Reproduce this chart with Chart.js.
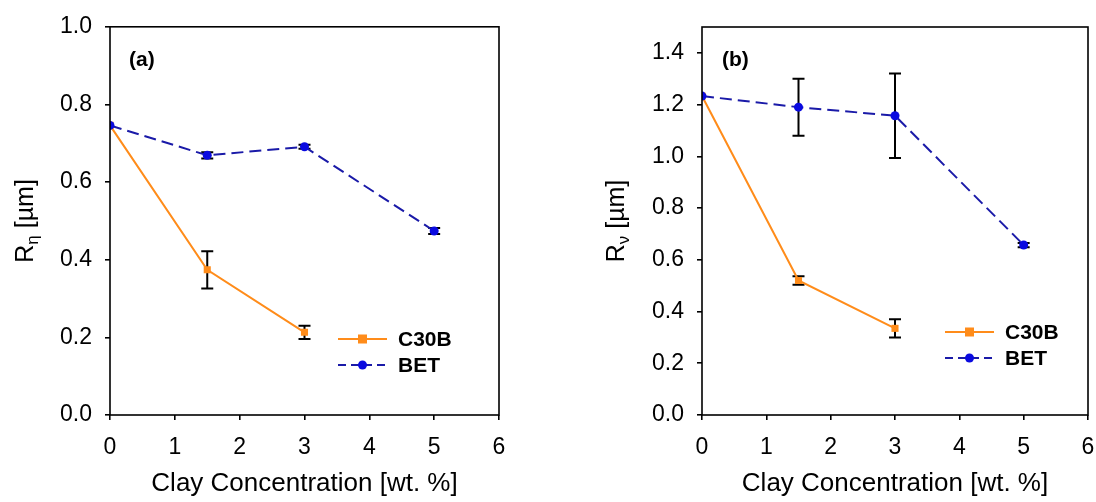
<!DOCTYPE html>
<html>
<head>
<meta charset="utf-8">
<script src="https://cdn.jsdelivr.net/npm/chart.js@4"></script>
<style>
  body { margin: 0; background: #fff; }
  .panel { position: absolute; top: 0; width: 548px; height: 502px; }
</style>
</head>
<body>
<div class="panel" style="left:0"><canvas id="chartA" width="548" height="502"></canvas></div>
<div class="panel" style="left:548px"><canvas id="chartB" width="548" height="502"></canvas></div>
<script>
// clay concentration [wt. %]
const clayC30B = [0, 1.5, 3];
const clayBET = [0, 1.5, 3, 5];

// (a) R_eta [um]
const rnC30B = [0.746, 0.374, 0.213];
const rnC30BErr = [0, 0.048, 0.017];
const rnBET = [0.746, 0.669, 0.691, 0.474];
const rnBETErr = [0, 0.008, 0.005, 0.008];

// (b) R_nu [um]
const rvC30B = [1.233, 0.520, 0.335];
const rvC30BErr = [0, 0.016, 0.035];
const rvBET = [1.233, 1.190, 1.157, 0.657];
const rvBETErr = [0, 0.11, 0.163, 0.008];

const xTicks = [0, 1, 2, 3, 4, 5, 6];
const rnTicks = [0, 0.2, 0.4, 0.6, 0.8, 1.0];
const rvTicks = [0, 0.2, 0.4, 0.6, 0.8, 1.0, 1.2, 1.4];

const FONT = "'Liberation Sans', Arial, sans-serif";
const ORANGE = '#ff8c1a';
const BLUE_LINE = '#1a1aa8';
const BLUE_PT = '#0a0ae0';

const pts = (xs, ys) => xs.map((x, i) => ({ x, y: ys[i] }));

// error bars, box, titles, legend
const decor = {
  id: 'decor',
  beforeDatasetsDraw(chart, args, opts) {
    const { ctx, scales: { x, y } } = chart;
    ctx.save();
    ctx.strokeStyle = '#000';
    ctx.lineWidth = 2;
    opts.errors.forEach(({ xs, ys, errs }) => {
      xs.forEach((xv, i) => {
        if (!errs[i]) return;
        const px = x.getPixelForValue(xv);
        const top = y.getPixelForValue(ys[i] + errs[i]);
        const bot = y.getPixelForValue(ys[i] - errs[i]);
        ctx.beginPath();
        ctx.moveTo(px, top); ctx.lineTo(px, bot);
        ctx.moveTo(px - 6, top); ctx.lineTo(px + 6, top);
        ctx.moveTo(px - 6, bot); ctx.lineTo(px + 6, bot);
        ctx.stroke();
      });
    });
    ctx.restore();
  },
  afterDatasetsDraw(chart, args, opts) {
    const { ctx, chartArea: a } = chart;
    ctx.save();
    ctx.strokeStyle = '#000';

    // frame
    ctx.lineWidth = 1.6;
    ctx.strokeRect(a.left, a.top, a.right - a.left, a.bottom - a.top);

    // panel label
    ctx.fillStyle = '#000';
    ctx.font = `bold 21px ${FONT}`;
    ctx.textBaseline = 'middle';
    ctx.fillText(opts.panel, opts.panelX, 60);

    // x title
    ctx.font = `26px ${FONT}`;
    ctx.textAlign = 'center';
    ctx.textBaseline = 'alphabetic';
    ctx.fillText('Clay Concentration [wt. %]', (a.left + a.right) / 2, 491);

    // y title with subscript
    ctx.save();
    ctx.translate(opts.yTitleX, (a.top + a.bottom) / 2);
    ctx.rotate(-Math.PI / 2);
    ctx.textAlign = 'left';
    ctx.font = `25px ${FONT}`;
    const w1 = ctx.measureText('R').width;
    const w3 = ctx.measureText(' [µm]').width;
    ctx.font = `17px ${FONT}`;
    const w2 = ctx.measureText(opts.sub).width;
    let sx = -(w1 + w2 + w3) / 2;
    ctx.font = `25px ${FONT}`;
    ctx.fillText('R', sx, 9);
    ctx.font = `17px ${FONT}`;
    ctx.fillText(opts.sub, sx + w1, 14);
    ctx.font = `25px ${FONT}`;
    ctx.fillText(' [µm]', sx + w1 + w2, 9);
    ctx.restore();

    // legend
    const L = opts.legend;
    ctx.lineWidth = 2;
    ctx.strokeStyle = ORANGE;
    ctx.beginPath(); ctx.moveTo(L.x, L.y); ctx.lineTo(L.x + 49, L.y); ctx.stroke();
    ctx.fillStyle = ORANGE;
    ctx.fillRect(L.x + 24.5 - 4.5, L.y - 4.5, 9, 9);
    ctx.strokeStyle = BLUE_LINE;
    ctx.setLineDash([8, 5]);
    ctx.beginPath(); ctx.moveTo(L.x, L.y + 26); ctx.lineTo(L.x + 49, L.y + 26); ctx.stroke();
    ctx.setLineDash([]);
    ctx.fillStyle = BLUE_PT;
    ctx.beginPath(); ctx.arc(L.x + 24.5, L.y + 26, 4.5, 0, Math.PI * 2); ctx.fill();
    ctx.fillStyle = '#000';
    ctx.font = `bold 21px ${FONT}`;
    ctx.textAlign = 'left';
    ctx.textBaseline = 'middle';
    ctx.fillText('C30B', L.x + 60, L.y + 1);
    ctx.fillText('BET', L.x + 60, L.y + 27);
    ctx.restore();
  }
};

function makeChart(id, c30b, bet, tickVals, yMax, leftW, rightPad, top, decorOpts) {
  return new Chart(document.getElementById(id), {
    type: 'scatter',
    data: {
      datasets: [
        {
          label: 'BET', data: pts(clayBET, bet), showLine: true,
          borderColor: BLUE_LINE, borderWidth: 2, borderDash: [12, 6],
          pointStyle: 'circle', pointRadius: 4.5, pointBackgroundColor: BLUE_PT,
          pointBorderColor: BLUE_PT, pointBorderWidth: 0
        },
        {
          label: 'C30B', data: pts(clayC30B, c30b), showLine: true,
          borderColor: ORANGE, borderWidth: 2,
          pointStyle: 'rect', pointRadius: 5, pointBackgroundColor: ORANGE,
          pointBorderColor: ORANGE, pointBorderWidth: 0
        }
      ]
    },
    options: {
      responsive: false,
      animation: false,
      layout: { padding: { left: 0, right: rightPad, top: top, bottom: 0 } },
      plugins: { legend: { display: false }, tooltip: { enabled: false }, decor: decorOpts },
      scales: {
        x: {
          type: 'linear', min: 0, max: 6,
          afterBuildTicks: s => { s.ticks = xTicks.map(v => ({ value: v })); },
          afterFit: s => { s.height = 87; s.paddingLeft = 0; s.paddingRight = 0; },
          grid: { drawOnChartArea: false, color: '#000', lineWidth: 1.6, tickLength: 5 },
          border: { display: false },
          ticks: { color: '#000', font: { family: FONT, size: 23 }, padding: 14 }
        },
        y: {
          min: 0, max: yMax,
          afterBuildTicks: s => { s.ticks = tickVals.map(v => ({ value: v })); },
          afterFit: s => { s.width = leftW; },
          grid: { drawOnChartArea: false, color: '#000', lineWidth: 1.6, tickLength: 5 },
          border: { display: false },
          ticks: { color: '#000', font: { family: FONT, size: 23 }, padding: 13,
                   callback: v => v.toFixed(1) }
        }
      }
    },
    plugins: [decor]
  });
}

makeChart('chartA', rnC30B, rnBET, rnTicks, 1.0, 110, 49, 26, {
  panel: '(a)', panelX: 129, yTitleX: 24, sub: 'η',
  legend: { x: 338, y: 339 },
  errors: [
    { xs: clayC30B, ys: rnC30B, errs: rnC30BErr },
    { xs: clayBET, ys: rnBET, errs: rnBETErr }
  ]
});

makeChart('chartB', rvC30B, rvBET, rvTicks, 1.5, 154, 8, 27, {
  panel: '(b)', panelX: 174, yTitleX: 67, sub: 'ν',
  legend: { x: 397, y: 332 },
  errors: [
    { xs: clayC30B, ys: rvC30B, errs: rvC30BErr },
    { xs: clayBET, ys: rvBET, errs: rvBETErr }
  ]
});
</script>
</body>
</html>
